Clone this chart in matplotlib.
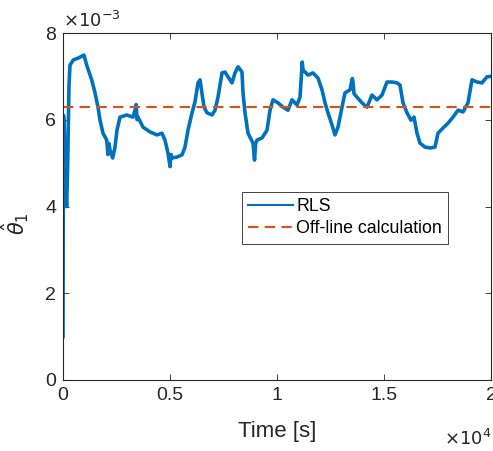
import matplotlib.pyplot as plt
from matplotlib.lines import Line2D
import numpy as np

plt.rcParams['font.family'] = ['Liberation Sans', 'DejaVu Sans']

# RLS estimate of theta_1 (time in s, value in 1e-3)
t = [0, 25, 60, 120, 170, 220, 280, 327, 481, 701, 981, 1107, 1341, 1495,
     1636, 1729, 1869, 2042, 2100, 2150, 2196, 2323, 2430, 2523, 2664, 2977,
     3271, 3364, 3420, 3460, 3505, 3738, 4065, 4393, 4626, 4766, 4907, 5000,
     5050, 5093, 5327, 5561, 5701, 5841, 6028, 6168, 6308, 6402, 6589, 6729,
     6963, 7103, 7243, 7430, 7570, 7710, 7897, 8037, 8178, 8364, 8411, 8505,
     8645, 8879, 8950, 9000, 9065, 9299, 9533, 9673, 9813, 10047, 10280,
     10514, 10701, 10935, 11075, 11180, 11215, 11449, 11682, 11916, 12103,
     12243, 12383, 12570, 12710, 12850, 13037, 13178, 13411, 13520, 13551,
     13600, 13738, 13972, 14206, 14439, 14673, 14907, 15140, 15374, 15607,
     15748, 15888, 16075, 16262, 16402, 16542, 16682, 16916, 17150, 17383,
     17523, 17757, 17991, 18224, 18458, 18692, 18925, 19112, 19346, 19579,
     19813, 20000]
rls = [1.0, 6.1, 5.8, 4.5, 4.0, 5.0, 6.8, 7.26, 7.38, 7.42, 7.49, 7.26, 6.92,
       6.62, 6.29, 5.99, 5.69, 5.53, 5.20, 5.45, 5.30, 5.12, 5.37, 5.76, 6.06,
       6.11, 6.06, 6.22, 6.35, 6.00, 6.06, 5.83, 5.72, 5.65, 5.69, 5.53, 5.23,
       4.92, 5.20, 5.12, 5.14, 5.19, 5.37, 5.76, 6.16, 6.41, 6.85, 6.92, 6.29,
       6.16, 6.11, 6.22, 6.52, 7.08, 7.10, 6.99, 6.85, 7.08, 7.22, 7.10, 6.62,
       6.16, 5.69, 5.46, 5.07, 5.45, 5.53, 5.58, 5.76, 6.22, 6.46, 6.39, 6.29,
       6.22, 6.46, 6.34, 6.52, 7.33, 7.15, 7.03, 7.08, 6.96, 6.69, 6.39, 6.16,
       5.88, 5.65, 5.83, 6.29, 6.62, 6.69, 6.95, 6.87, 6.60, 6.52, 6.39, 6.29,
       6.57, 6.46, 6.57, 6.87, 6.87, 6.85, 6.80, 6.39, 6.16, 5.99, 6.06, 5.69,
       5.46, 5.37, 5.35, 5.37, 5.69, 5.81, 5.92, 6.06, 6.22, 6.18, 6.39, 6.92,
       6.87, 6.85, 6.99, 7.00]
offline = 6.3  # 1e-3

t = np.array(t)
rls = np.array(rls) * 1e-3

blue = '#0072BD'
orange = '#D95319'
dark = '#262626'

fig = plt.figure(figsize=(4.93, 4.51), dpi=100)
ax = fig.add_axes([63 / 493, 71 / 451, 428 / 493, 347 / 451])

ax.plot(t, rls, color=blue, lw=2.6, solid_joinstyle='round')
ax.axhline(offline * 1e-3, color=orange, lw=1.5, ls=(0, (5, 3)))

ax.set_xlim(0, 2e4)
ax.set_ylim(0, 8e-3)
ax.set_xticks([0, 5000, 10000, 15000, 20000])
ax.set_xticklabels(['0', '0.5', '1', '1.5', '2'])
ax.set_yticks([0, 2e-3, 4e-3, 6e-3, 8e-3])
ax.set_yticklabels(['0', '2', '4', '6', '8'])

ax.tick_params(direction='in', length=4, width=0.6, colors=dark,
               labelsize=14, top=True, right=True, pad=5)
for s in ax.spines.values():
    s.set_color(dark)
    s.set_linewidth(0.8)

ax.set_xlabel('Time [s]', fontsize=16, color=dark, labelpad=12)
ax.set_ylabel(r'$\hat{\theta}_1$', fontsize=15, color=dark)
ax.yaxis.set_label_coords(-0.075, 0.45)

ax.text(0.0, 1.005, r'$\times10^{-3}$', transform=ax.transAxes, fontsize=13,
        color=dark, va='bottom', ha='left')
ax.text(1.0, -0.2, r'$\times10^{4}$', transform=ax.transAxes, fontsize=13,
        color=dark, va='bottom', ha='right')

handles = [Line2D([], [], color=blue, lw=1.5),
           Line2D([], [], color=orange, lw=1.5, ls=(0, (5, 3)))]
leg = ax.legend(handles, ['RLS', 'Off-line calculation'], loc='upper left',
                bbox_to_anchor=(0.418, 0.542), borderaxespad=0,
                fancybox=False, framealpha=1, fontsize=12.8,
                handlelength=2.5, handletextpad=0.2, borderpad=0.35,
                labelspacing=0.3)
leg.get_frame().set_edgecolor(dark)
leg.get_frame().set_linewidth(0.6)

fig.savefig('out.png', dpi=100)
